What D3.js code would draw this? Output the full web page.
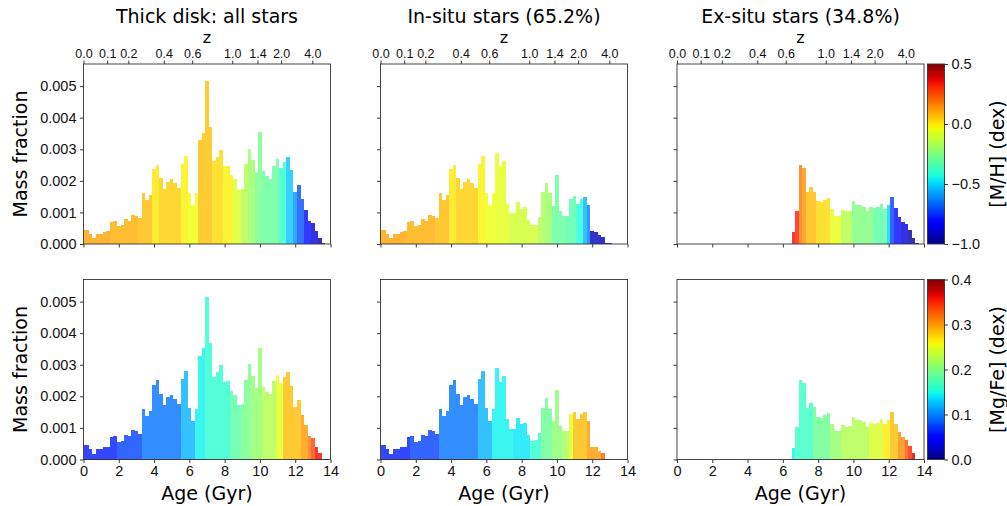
<!DOCTYPE html>
<html>
<head>
<meta charset="utf-8">
<title></title>
<style>
  body, html{ margin: 0; background: #fff; }
  svg{ font-family: 'DejaVu Sans', sans-serif; }
  .ax path.domain{ display: none; }
  .ax line{ stroke: #222; stroke-width: 0.9; }
  .ax text{ fill: #111; font-size: 14.5px; }
  .zax text{ font-size: 12.5px; }
</style>
</head>
<body>
<svg id="fig" width="1007" height="506"></svg>
<script src="https://cdn.jsdelivr.net/npm/d3@7/dist/d3.min.js"></script>
<script>

// histogram bins, 0.2 Gyr wide, centred on 0.0, 0.2, ... 13.8 Gyr
var binWidth = 0.2
var ageCentres = d3.range(70).map(function(k){ return +(k * binWidth).toFixed(1) })

// mass fraction per bin, in units of 1e-3
var massAll = [
  0.45, 0.45, 0.32, 0.19, 0.32, 0.33, 0.39, 0.41, 0.70, 0.74,   // 0.0 - 1.8
  0.56, 0.59, 0.79, 0.74, 0.93, 0.89, 0.81, 1.60, 1.38, 1.54,   // 2.0 - 3.8
  2.36, 2.51, 2.08, 1.74, 1.97, 2.05, 1.93, 1.76, 2.54, 2.80,   // 4.0 - 5.8
  1.62, 1.22, 1.60, 3.28, 3.52, 5.15, 3.69, 2.62, 2.77, 2.98,   // 6.0 - 7.8
  2.46, 2.48, 2.17, 2.05, 1.72, 1.75, 2.52, 3.02, 2.66, 2.27,   // 8.0 - 9.8
  3.54, 2.30, 2.14, 2.07, 2.48, 2.68, 2.42, 2.60, 2.76, 2.33,   // 10.0 - 11.8
  1.66, 1.88, 1.41, 1.08, 0.73, 0.67, 0.41, 0.20, 0.03, 0.005   // 12.0 - 13.8
]
var massIn = [
  0.45, 0.45, 0.32, 0.19, 0.32, 0.33, 0.39, 0.41, 0.70, 0.74,
  0.56, 0.59, 0.79, 0.74, 0.93, 0.89, 0.81, 1.60, 1.38, 1.54,
  2.36, 2.51, 2.08, 1.74, 1.97, 2.05, 1.93, 1.76, 2.54, 2.80,
  1.62, 1.22, 1.60, 2.89, 2.47, 2.64, 1.27, 0.98, 0.98, 1.32,
  1.11, 1.16, 0.77, 0.59, 0.61, 0.85, 1.64, 1.94, 1.61, 1.21,
  2.19, 1.06, 0.90, 0.89, 1.44, 1.51, 1.28, 1.44, 1.50, 1.22,
  0.41, 0.39, 0.28, 0.21, 0.03, 0.02, 0, 0, 0, 0
]
var massEx = [
  0, 0, 0, 0, 0, 0, 0, 0, 0, 0,
  0, 0, 0, 0, 0, 0, 0, 0, 0, 0,
  0, 0, 0, 0, 0, 0, 0, 0, 0, 0,
  0, 0, 0, 0.38, 1.04, 2.51, 2.41, 1.64, 1.79, 1.66,
  1.35, 1.32, 1.40, 1.46, 1.11, 0.90, 0.89, 1.08, 1.04, 1.06,
  1.35, 1.25, 1.25, 1.18, 1.04, 1.17, 1.14, 1.16, 1.27, 1.11,
  1.25, 1.49, 1.14, 0.87, 0.71, 0.63, 0.43, 0.20, 0.03, 0
]

// mean [M/H] per bin (dex)
var mhAll = [
  0.11, 0.11, 0.11, 0.11, 0.11, 0.11, 0.11, 0.11, 0.09, 0.09,
  0.09, 0.09, 0.09, 0.09, 0.09, 0.09, 0.07, 0.07, 0.07, 0.07,
  0.00, 0.00, 0.04, 0.04, 0.04, 0.04, 0.04, 0.04, -0.02, -0.02,
  -0.04, -0.04, -0.04, 0.06, 0.06, 0.06, 0.06, 0.02, 0.02, 0.02,
  -0.02, -0.02, -0.02, -0.08, -0.08, -0.15, -0.15, -0.20, -0.20, -0.27,
  -0.27, -0.30, -0.30, -0.30, -0.30, -0.30, -0.40, -0.40, -0.52, -0.52,
  -0.60, -0.70, -0.70, -0.80, -0.80, -0.88, -0.88, -0.95, -0.95, -0.95
]
var mhIn = [
  0.11, 0.11, 0.11, 0.11, 0.11, 0.11, 0.11, 0.11, 0.09, 0.09,
  0.09, 0.09, 0.09, 0.09, 0.09, 0.09, 0.07, 0.07, 0.07, 0.07,
  0.00, 0.00, 0.04, 0.04, 0.04, 0.04, 0.04, 0.04, -0.02, -0.02,
  -0.04, -0.04, -0.04, -0.06, -0.06, -0.06, -0.06, -0.10, -0.10, -0.10,
  -0.10, -0.10, -0.10, -0.10, -0.10, -0.16, -0.16, -0.20, -0.20, -0.30,
  -0.30, -0.30, -0.30, -0.33, -0.33, -0.33, -0.42, -0.42, -0.55, -0.63,
  -0.92, -0.92, -0.92, -0.92, -0.92, -0.92, null, null, null, null
]
var mhEx = [
  null, null, null, null, null, null, null, null, null, null,
  null, null, null, null, null, null, null, null, null, null,
  null, null, null, null, null, null, null, null, null, null,
  null, null, null, 0.35, 0.32, 0.18, 0.13, 0.07, 0.07, 0.07,
  0.02, 0.02, 0.02, 0.02, -0.05, -0.05, -0.05, -0.15, -0.15, -0.15,
  -0.25, -0.25, -0.25, -0.25, -0.25, -0.25, -0.32, -0.32, -0.32, -0.32,
  -0.50, -0.72, -0.80, -0.80, -0.88, -0.88, -0.95, -0.95, -0.95, null
]

// mean [Mg/Fe] per bin (dex)
var mgAll = [
  0.06, 0.06, 0.06, 0.06, 0.06, 0.06, 0.06, 0.06, 0.06, 0.06,
  0.075, 0.075, 0.075, 0.075, 0.075, 0.075, 0.075, 0.095, 0.095, 0.095,
  0.095, 0.095, 0.095, 0.095, 0.095, 0.095, 0.095, 0.095, 0.12, 0.12,
  0.12, 0.12, 0.145, 0.145, 0.145, 0.16, 0.16, 0.16, 0.16, 0.16,
  0.16, 0.16, 0.18, 0.18, 0.18, 0.195, 0.195, 0.195, 0.21, 0.21,
  0.21, 0.225, 0.225, 0.225, 0.225, 0.25, 0.25, 0.285, 0.285, 0.285,
  0.285, 0.285, 0.30, 0.30, 0.315, 0.335, 0.36, 0.36, 0.37, 0.37
]
var mgIn = [
  0.06, 0.06, 0.06, 0.06, 0.06, 0.06, 0.06, 0.06, 0.06, 0.075,
  0.075, 0.075, 0.075, 0.075, 0.075, 0.075, 0.075, 0.095, 0.095, 0.095,
  0.095, 0.095, 0.095, 0.095, 0.095, 0.095, 0.095, 0.095, 0.12, 0.12,
  0.12, 0.12, 0.145, 0.145, 0.145, 0.145, 0.145, 0.145, 0.14, 0.14,
  0.14, 0.14, 0.14, 0.16, 0.16, 0.16, 0.19, 0.19, 0.19, 0.205,
  0.205, 0.205, 0.22, 0.22, 0.25, 0.285, 0.285, 0.285, 0.285, 0.30,
  0.30, 0.30, 0.30, 0.325, 0.325, 0.325, null, null, null, null
]
var mgEx = [
  null, null, null, null, null, null, null, null, null, null,
  null, null, null, null, null, null, null, null, null, null,
  null, null, null, null, null, null, null, null, null, null,
  null, null, null, 0.145, 0.165, 0.165, 0.165, 0.165, 0.165, 0.19,
  0.19, 0.19, 0.19, 0.19, 0.21, 0.21, 0.21, 0.225, 0.225, 0.225,
  0.225, 0.225, 0.225, 0.225, 0.225, 0.245, 0.245, 0.245, 0.245, 0.265,
  0.265, 0.285, 0.285, 0.305, 0.305, 0.33, 0.35, 0.37, 0.37, null
]

var titles = ['Thick disk: all stars', 'In-situ stars (65.2%)', 'Ex-situ stars (34.8%)']
var massSets = [massAll, massIn, massEx]
var mhSets = [mhAll, mhIn, mhEx]
var mgSets = [mgAll, mgIn, mgEx]

var ageTicks = [0, 2, 4, 6, 8, 10, 12, 14]
var massTicks = [0, 0.001, 0.002, 0.003, 0.004, 0.005]
// redshift axis: age (Gyr) where each z label sits
var zLabels = ['0.0', '0.1', '0.2', '0.4', '0.6', '1.0', '1.4', '2.0', '4.0']
var zAges = [0, 1.34, 2.54, 4.55, 6.16, 8.43, 9.86, 11.2, 12.97]

var mhTicks = [-1, -0.5, 0, 0.5]
var mgTicks = [0, 0.1, 0.2, 0.3, 0.4]

// matplotlib 'jet'
var jetR = d3.scaleLinear().domain([0, 0.35, 0.66, 0.89, 1]).range([0, 0, 1, 1, 0.5]).clamp(true)
var jetG = d3.scaleLinear().domain([0, 0.125, 0.375, 0.64, 0.91, 1]).range([0, 0, 1, 1, 0, 0]).clamp(true)
var jetB = d3.scaleLinear().domain([0, 0.11, 0.34, 0.65, 1]).range([0.5, 1, 1, 0, 0]).clamp(true)
function jet(t){
  return d3.rgb(jetR(t) * 255, jetG(t) * 255, jetB(t) * 255).formatHex()
}

var colX = [83.5, 380.5, 677], rowY = [64, 279.5]
var W = 247, H = 180
var minus = function(s){ return s.replace('-', '\u2212') }

var svg = d3.select('#fig')
var x = d3.scaleLinear().domain([0, 14]).range([0, W])
var y = d3.scaleLinear().domain([0, 0.0057]).range([H, 0])

var rows = [
  { sets: mhSets, norm: d3.scaleLinear().domain([-1, 0.5]), cticks: mhTicks, clabel: '[M/H] (dex)', cfmt: d3.format('.1f') },
  { sets: mgSets, norm: d3.scaleLinear().domain([0, 0.4]), cticks: mgTicks, clabel: '[Mg/Fe] (dex)', cfmt: d3.format('.1f') }
]

rows.forEach(function(row, r){
  for(var c = 0; c < 3; c++){
    var g = svg.append('g').attr('transform', 'translate(' + colX[c] + ',' + rowY[r] + ')')
    var mass = massSets[c], col = row.sets[c]
    var bins = ageCentres.map(function(a, k){ return { a: a, m: mass[k] / 1000, v: col[k] } })
      .filter(function(d){ return d.m > 0 && d.v != null })

    g.selectAll('rect.bar').data(bins).enter().append('rect')
      .attr('class', 'bar')
      .attr('x', function(d){ return x(Math.max(0, d.a - binWidth / 2)) })
      .attr('width', function(d){ return x(Math.min(14, d.a + binWidth / 2)) - x(Math.max(0, d.a - binWidth / 2)) })
      .attr('y', function(d){ return y(d.m) })
      .attr('height', function(d){ return H - y(d.m) })
      .attr('fill', function(d){ return jet(row.norm(d.v)) })
      .attr('fill-opacity', 0.8)
      .attr('shape-rendering', 'crispEdges')

    // left axis
    g.append('g').attr('class', 'ax')
      .call(d3.axisLeft(y).tickValues(massTicks).tickSize(3.5).tickPadding(3.5)
        .tickFormat(c === 0 ? d3.format('.3f') : function(){ return '' }))
    // bottom axis
    g.append('g').attr('class', 'ax').attr('transform', 'translate(0,' + H + ')')
      .call(d3.axisBottom(x).tickValues(ageTicks).tickSize(3.5).tickPadding(3)
        .tickFormat(r === 1 ? d3.format('d') : function(){ return '' }))

    if(r === 0){
      g.append('g').attr('class', 'ax zax')
        .call(d3.axisTop(x).tickValues(zAges).tickSize(3.5).tickPadding(2.5)
          .tickFormat(function(d, i){ return zLabels[i] }))
      g.append('text').attr('x', W / 2).attr('y', -21).attr('text-anchor', 'middle')
        .style('font-size', '16px').text('z')
      g.append('text').attr('x', W / 2).attr('y', -41).attr('text-anchor', 'middle')
        .style('font-size', '19px').text(titles[c])
    } else {
      g.append('text').attr('x', W / 2).attr('y', H + 40).attr('text-anchor', 'middle')
        .style('font-size', '19px').text('Age (Gyr)')
    }
    if(c === 0){
      g.append('text').attr('transform', 'translate(' + (26.5 - colX[0]) + ',' + (H / 2) + ') rotate(-90)')
        .attr('text-anchor', 'middle').style('font-size', '19px').text('Mass fraction')
    }

    g.append('rect').attr('width', W).attr('height', H)
      .attr('fill', 'none').attr('stroke', '#333').attr('stroke-width', 0.9)
  }

  // colour bar
  var cb = svg.append('g').attr('transform', 'translate(927.5,' + rowY[r] + ')')
  var gid = 'jetgrad' + r
  var grad = svg.append('defs').append('linearGradient').attr('id', gid)
    .attr('x1', 0).attr('y1', 1).attr('x2', 0).attr('y2', 0)
  d3.range(0, 1.0001, 0.02).forEach(function(t){
    grad.append('stop').attr('offset', t).attr('stop-color', jet(t))
  })
  cb.append('rect').attr('width', 17).attr('height', H).attr('fill', 'url(#' + gid + ')')
    .attr('stroke', '#333').attr('stroke-width', 0.9)
  var cy = d3.scaleLinear().domain(row.norm.domain()).range([H, 0])
  cb.append('g').attr('class', 'ax').attr('transform', 'translate(17,0)')
    .call(d3.axisRight(cy).tickValues(row.cticks).tickSize(3.5).tickPadding(3.5)
      .tickFormat(function(d){ return minus(row.cfmt(d)) }))
  cb.append('text').attr('transform', 'translate(' + (1004 - 927.5) + ',' + (H / 2) + ') rotate(-90)')
    .attr('text-anchor', 'middle').style('font-size', '19px').text(row.clabel)
})
</script>
</body>
</html>
